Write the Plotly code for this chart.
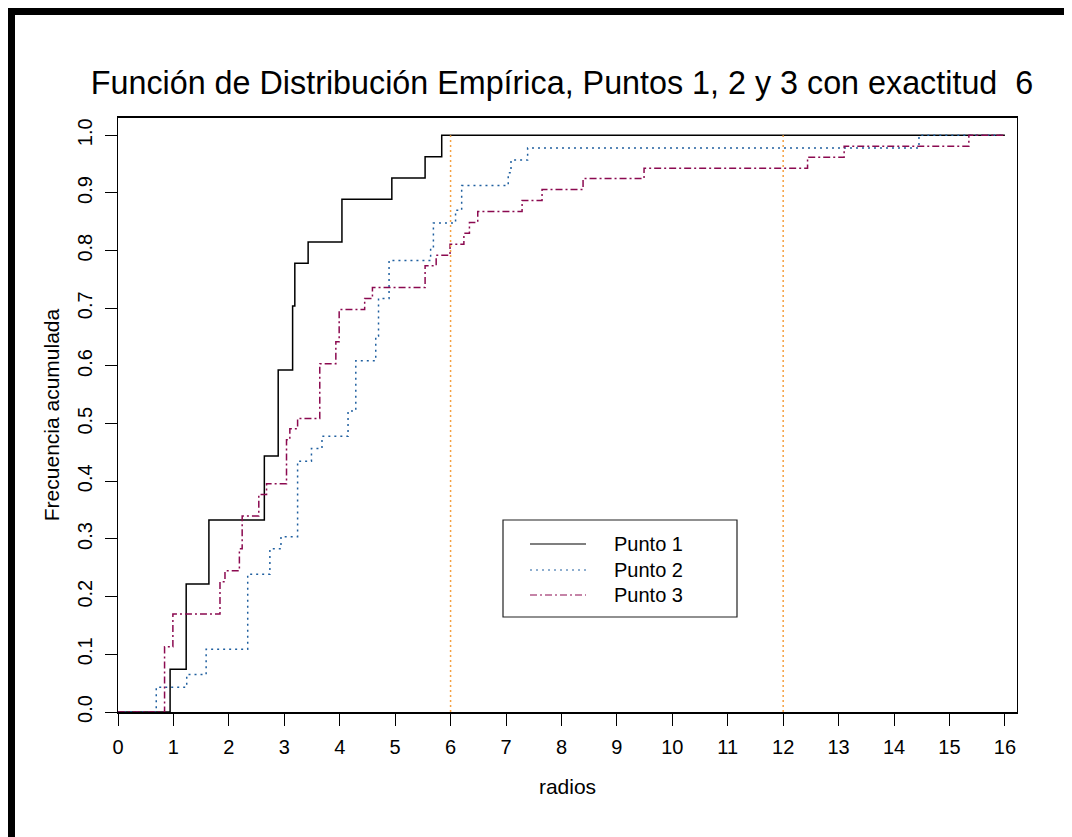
import plotly.graph_objects as go

# ---------------- data ----------------
x_start, x_end = 0, 16

p1_x = [0.94, 1.23, 1.64, 2.64, 2.89, 3.15, 3.19, 3.43, 4.04, 4.94, 5.54, 5.84]
p1_y = [0.074, 0.222, 0.333, 0.444, 0.593, 0.704, 0.778, 0.815, 0.889, 0.926, 0.963, 1.0]

p2_x = [0.69, 1.24, 1.59, 2.34, 2.74, 2.94, 3.24, 3.49, 3.68, 4.15, 4.29, 4.65, 4.70,
        4.89, 5.64, 5.69, 6.09, 6.20, 7.04, 7.09, 7.39, 14.45]
p2_y = [0.043, 0.065, 0.109, 0.239, 0.283, 0.304, 0.435, 0.457, 0.478, 0.522, 0.609,
        0.652, 0.717, 0.783, 0.804, 0.848, 0.870, 0.913, 0.935, 0.957, 0.978, 1.0]

p3_x = [0.84, 0.99, 1.84, 1.93, 2.19, 2.24, 2.54, 2.68, 3.04, 3.10, 3.24, 3.64, 3.93,
        3.99, 4.45, 4.59, 5.54, 5.74, 5.99, 6.24, 6.34, 6.49, 7.29, 7.65, 8.39, 9.49,
        12.44, 13.10, 15.35]
p3_y = [0.113, 0.170, 0.226, 0.245, 0.283, 0.340, 0.377, 0.396, 0.472, 0.491, 0.509,
        0.604, 0.642, 0.698, 0.717, 0.736, 0.774, 0.792, 0.811, 0.830, 0.849, 0.868,
        0.887, 0.906, 0.925, 0.943, 0.962, 0.981, 1.0]

ref_x = [6, 12]          # vertical reference lines
ref_y = [0, 1]

series_names = ["Punto 1", "Punto 2", "Punto 3"]
x_ticks = list(range(0, 17))
y_ticks = [0.0, 0.1, 0.2, 0.3, 0.4, 0.5, 0.6, 0.7, 0.8, 0.9, 1.0]

title_text = "Función de Distribución Empírica, Puntos 1, 2 y 3 con exactitud  6"
x_title = "radios"
y_title = "Frecuencia acumulada"

# ---------------- styles / layout ----------------
FONT = "Liberation Sans, Arial, sans-serif"
W, H = 1072, 837
OFF = 8                      # page body margin of the html page
ML, MT = 118 - OFF, 118 - OFF
PR, PB = 1017 - OFF, 712 - OFF
MR, MB = W - PR, H - PB
PW, PH = W - ML - MR, H - MT - MB

styles = [
    dict(color="black", width=1.5, dash="solid"),
    dict(color="#1f5f9f", width=1.5, dash="2px,4px"),
    dict(color="#8b0a50", width=1.5, dash="7px,3px,2px,3px"),
]


def px2x(px):
    """screen px (reference) -> paper x"""
    return (px - OFF - ML) / PW


def py2y(py):
    """screen px (reference) -> paper y"""
    return (PB - (py - OFF)) / PH


fig = go.Figure()

for name, xs, ys, st in zip(series_names, [p1_x, p2_x, p3_x], [p1_y, p2_y, p3_y], styles):
    fig.add_trace(go.Scatter(
        x=[x_start] + xs + [x_end],
        y=[0] + ys + [ys[-1]],
        mode="lines", line_shape="hv", name=name,
        line=st, showlegend=False, hoverinfo="x+y",
    ))

for vx in ref_x:
    fig.add_trace(go.Scatter(
        x=[vx, vx], y=ref_y, mode="lines",
        line=dict(color="#f5a040", width=1.5, dash="2px,3px"),
        showlegend=False, hoverinfo="skip",
    ))

shapes = []
# outer black border pieces
shapes.append(dict(type="rect", xref="paper", yref="paper",
                   x0=px2x(8), x1=px2x(1090), y0=py2y(15), y1=py2y(8),
                   fillcolor="black", line=dict(width=0), layer="above"))
shapes.append(dict(type="rect", xref="paper", yref="paper",
                   x0=px2x(8), x1=px2x(15), y0=py2y(850), y1=py2y(8),
                   fillcolor="black", line=dict(width=0), layer="above"))

# legend box
shapes.append(dict(type="rect", xref="paper", yref="paper",
                   x0=px2x(503), x1=px2x(737), y0=py2y(617), y1=py2y(520),
                   fillcolor="white", line=dict(color="#222", width=1.2), layer="above"))
annotations = []
rows_py = [544, 570, 595]
for name, st, rpy in zip(series_names, styles, rows_py):
    shapes.append(dict(type="line", xref="paper", yref="paper",
                       x0=px2x(530), x1=px2x(586), y0=py2y(rpy), y1=py2y(rpy),
                       line=dict(color=st["color"], width=1.2, dash=st["dash"]), layer="above"))
    annotations.append(dict(xref="paper", yref="paper", x=px2x(612), y=py2y(rpy),
                            text=name, showarrow=False, xanchor="left", yanchor="middle",
                            font=dict(family=FONT, size=20, color="black")))

fig.update_layout(
    width=W, height=H,
    margin=dict(l=ML, r=MR, t=MT, b=MB),
    paper_bgcolor="white", plot_bgcolor="white",
    font=dict(family=FONT, size=20, color="black"),
    title=dict(text=title_text, x=(562 - OFF) / W, xanchor="center",
               y=1 - (83 - OFF) / H, yanchor="middle", yref="container",
               font=dict(family=FONT, size=32.3, color="black")),
    shapes=shapes, annotations=annotations,
    showlegend=False,
)

fig.update_xaxes(
    range=[0, (1017 - 118.5) / 55.4], autorange=False,
    tickmode="array", tickvals=x_ticks, ticktext=[str(t) for t in x_ticks],
    ticks="outside", ticklen=12, tickwidth=1, tickcolor="black",
    showline=True, linecolor="black", linewidth=1.5, mirror=True,
    showgrid=False, zeroline=False,
    tickfont=dict(family=FONT, size=20),
    ticklabelstandoff=4,
    title=dict(text=x_title, font=dict(family=FONT, size=21), standoff=23),
    automargin=False,
)
fig.update_yaxes(
    range=[0, 1.03], autorange=False,
    tickmode="array", tickvals=y_ticks, ticktext=[f"{v:.1f}" for v in y_ticks],
    tickangle=-90,
    ticks="outside", ticklen=12, tickwidth=1, tickcolor="black",
    showline=True, linecolor="black", linewidth=1.2, mirror=True,
    showgrid=False, zeroline=False,
    tickfont=dict(family=FONT, size=20),
    ticklabelstandoff=5,
    title=dict(text=y_title, font=dict(family=FONT, size=21), standoff=8),
    automargin=False,
)

fig.write_html("out.html")
